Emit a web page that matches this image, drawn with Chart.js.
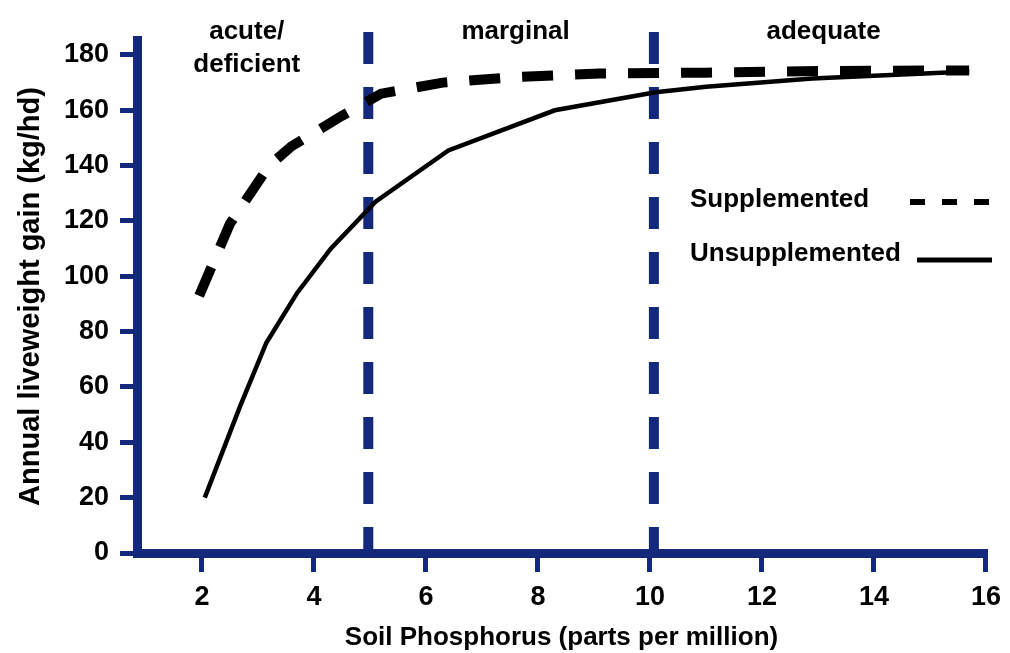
<!DOCTYPE html>
<html>
<head>
<meta charset="utf-8">
<script src="https://cdn.jsdelivr.net/npm/chart.js@4/dist/chart.umd.min.js"></script>
<style>
    body { margin: 0; background: #fff; }
    #wrap { width: 1010px; height: 653px; }
</style>
</head>
<body>
<div id="wrap"><canvas id="myChart"></canvas></div>
<script>
// Data
const xTicks = [2, 4, 6, 8, 10, 12, 14, 16]
const yTicks = [0, 20, 40, 60, 80, 100, 120, 140, 160, 180]

const suppX = [1.95, 2.5, 3.2, 3.6, 4.5, 5.2, 6.3, 7.6, 9.1, 11, 13, 15.7]
const suppY = [93, 119, 140, 147, 158, 166, 170, 172, 173.3, 173.6, 174.2, 174.4]

const unsuppX = [2.05, 2.68, 3.15, 3.7, 4.3, 5.1, 6.4, 8.3, 10.1, 11, 12.9, 15.7]
const unsuppY = [20, 53, 76, 94, 110, 127, 145.5, 160, 166.5, 168.5, 171.5, 174]

// zone boundaries and labels
const zoneBounds = [4.97, 10.07]
const zoneNames = [['acute/', 'deficient'], ['marginal'], ['adequate']]
const zoneCenters = [2.8, 7.6, 13.1]

const seriesNames = ['Supplemented', 'Unsupplemented']

const navy = '#15297c'
const font = '"Liberation Sans", Arial, sans-serif'

function toPoints(xs, ys) {
    return xs.map(function (x, i) { return { x: x, y: ys[i] } })
}

const boundSets = zoneBounds.map(function (b) {
    return {
        label: 'bound ' + b,
        data: [{ x: b, y: 188.3 }, { x: b, y: 0 }],
        borderColor: navy,
        borderWidth: 10,
        borderDash: [32, 23],
        borderCapStyle: 'butt',
        pointRadius: 0,
        clip: false,
        order: 2
    }
})

// Zone labels and legend
const overlay = {
    id: 'overlay',
    afterDraw(chart) {
        const ctx = chart.ctx
        const x = chart.scales.x
        ctx.save()
        ctx.fillStyle = '#000'
        ctx.font = 'bold 26px ' + font
        ctx.textAlign = 'center'
        ctx.textBaseline = 'alphabetic'
        zoneNames.forEach(function (lines, i) {
            lines.forEach(function (t, j) {
                ctx.fillText(t, x.getPixelForValue(zoneCenters[i]), 39 + j * 33)
            })
        })

        ctx.textAlign = 'left'
        ctx.fillText(seriesNames[0], 690, 207)
        ctx.fillText(seriesNames[1], 690, 261)

        ctx.strokeStyle = '#000'
        ctx.lineCap = 'butt'
        ctx.lineWidth = 6
        ctx.setLineDash([15, 17])
        ctx.beginPath()
        ctx.moveTo(910, 202)
        ctx.lineTo(992, 202)
        ctx.stroke()

        ctx.setLineDash([])
        ctx.lineWidth = 5
        ctx.beginPath()
        ctx.moveTo(917, 260)
        ctx.lineTo(992, 260)
        ctx.stroke()
        ctx.restore()
    }
}

const myChart = document.getElementById('myChart')

const chart = new Chart(myChart, {
    type: 'line',
    data: {
        datasets: [
            {
                label: seriesNames[0],
                data: toPoints(suppX, suppY),
                borderColor: '#000',
                borderWidth: 10,
                borderDash: [31, 22],
                borderCapStyle: 'butt',
                pointRadius: 0,
                tension: 0,
                order: 0
            },
            {
                label: seriesNames[1],
                data: toPoints(unsuppX, unsuppY),
                borderColor: '#000',
                borderWidth: 4.5,
                pointRadius: 0,
                tension: 0,
                order: 1
            }
        ].concat(boundSets)
    },
    options: {
        responsive: true,
        maintainAspectRatio: false,
        animation: false,
        layout: { padding: { top: 40, right: 21, left: 0, bottom: 0 } },
        plugins: {
            legend: { display: false },
            tooltip: { enabled: false }
        },
        scales: {
            x: {
                type: 'linear',
                min: 0.84,
                max: 16,
                afterFit: function (s) { s.height = 100 },
                afterBuildTicks: function (s) { s.ticks = xTicks.map(function (v) { return { value: v } }) },
                border: { display: true, color: navy, width: 9 },
                grid: { drawOnChartArea: false, drawTicks: true, tickLength: 19, color: navy, lineWidth: 5 },
                ticks: { color: '#000', padding: 9, font: { family: font, size: 27, weight: 'bold' } },
                title: {
                    display: true,
                    text: 'Soil Phosphorus (parts per million)',
                    color: '#000',
                    padding: 0,
                    font: { family: font, size: 26, weight: 'bold' }
                }
            },
            y: {
                min: 0,
                max: 185.4,
                afterFit: function (s) { s.width = 137 },
                afterBuildTicks: function (s) { s.ticks = yTicks.map(function (v) { return { value: v } }) },
                border: { display: true, color: navy, width: 9 },
                grid: { drawOnChartArea: false, drawTicks: true, tickLength: 17, color: navy, lineWidth: 5 },
                ticks: { color: '#000', padding: 11, font: { family: font, size: 27, weight: 'bold' } },
                title: {
                    display: true,
                    text: 'Annual liveweight gain (kg/hd)',
                    color: '#000',
                    padding: { top: 14, bottom: 0 },
                    font: { family: font, size: 29, weight: 'bold' }
                }
            }
        }
    },
    plugins: [overlay]
})
</script>
</body>
</html>
